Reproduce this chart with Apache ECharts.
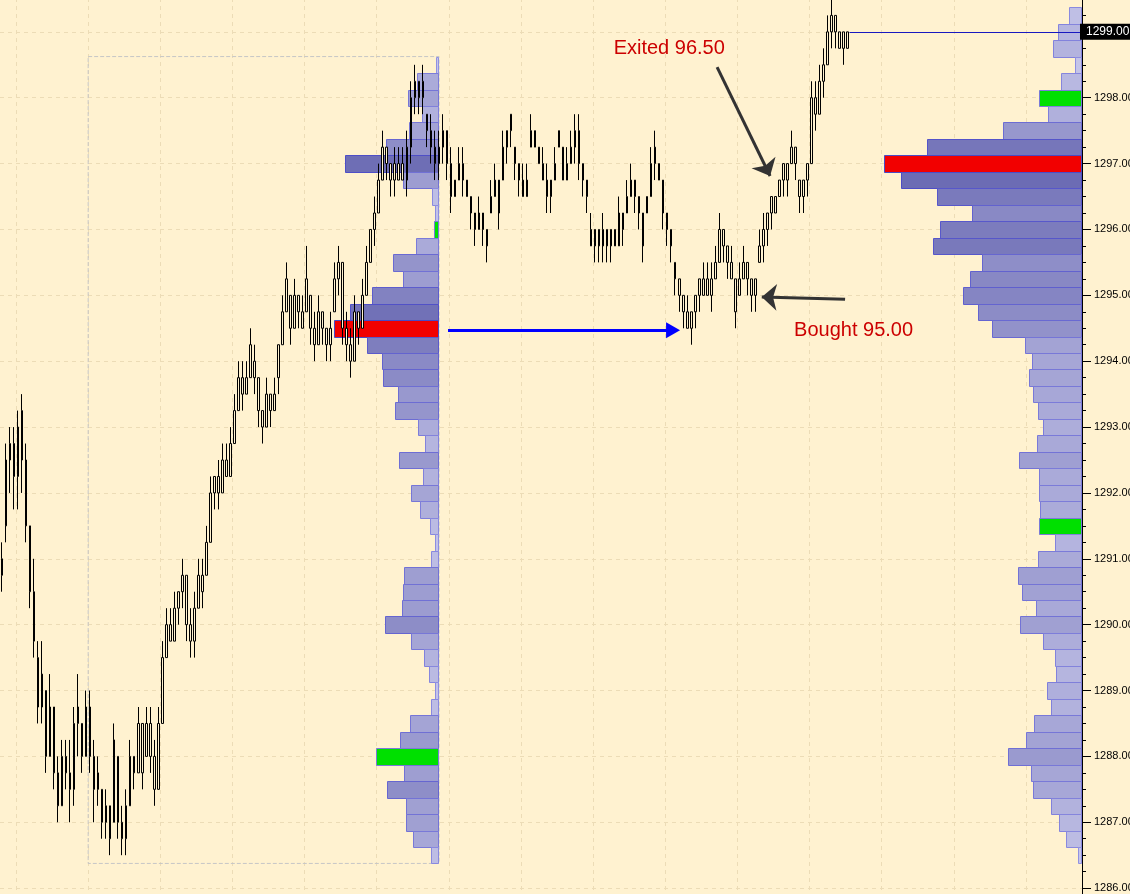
<!DOCTYPE html>
<html>
<head>
<meta charset="utf-8">
<script src="https://cdn.jsdelivr.net/npm/echarts@6/dist/echarts.min.js"></script>
<style>
html,body{margin:0;padding:0;background:#fff2d0;}
#chart{width:1130px;height:894px;}
</style>
</head>
<body>
<div id="chart"></div>
<script>
// ---------------- data ----------------
const TICK = 0.25;
const lastPrice = 1299.00;

const barOpen = [
1290.75,1291.5,1292.5,1292.75,1292.25,1293.25,1292.5,1291.5,1290.5,1289.5,
1288.75,1289.0,1288.0,1288.75,1287.75,1287.25,1288.0,1287.75,1287.5,1288.5,
1288.5,1288.0,1288.75,1288.0,1287.5,1287.5,1287.0,1287.25,1287.0,1288.0,
1287.0,1286.75,1287.25,1288.0,1287.75,1288.5,1288.0,1288.5,1288.0,1287.5,
1288.5,1289.5,1290.0,1289.75,1290.25,1290.5,1290.75,1290.0,1289.75,1290.25,
1290.75,1290.75,1291.25,1292.0,1292.25,1292.0,1292.5,1292.25,1292.75,1293.25,
1293.75,1293.5,1293.75,1294.0,1293.75,1293.25,1293.0,1293.5,1293.25,1293.75,
1294.25,1294.75,1295.0,1294.5,1295.0,1294.75,1294.75,1295.0,1294.5,1294.25,
1294.75,1294.5,1294.25,1294.75,1295.25,1295.5,1294.5,1294.25,1294.0,1294.75,
1294.5,1295.0,1295.5,1296.0,1296.25,1296.75,1297.25,1297.0,1296.75,1297.0,
1296.75,1296.75,1297.25,1298.0,1298.25,1298.0,1297.75,1297.5,1297.25,1297.0,
1297.25,1297.5,1297.0,1296.5,1296.75,1297.0,1296.75,1296.5,1296.25,1296.0,
1296.25,1296.0,1296.25,1296.5,1296.75,1296.75,1297.25,1297.5,1297.25,1297.0,
1296.5,1296.75,1297.25,1297.5,1297.25,1297.0,1296.75,1296.5,1296.75,1297.25,
1297.25,1296.75,1297.0,1297.25,1297.5,1297.0,1296.75,1296.0,1295.75,1296.0,
1295.75,1296.0,1295.75,1296.0,1295.75,1296.25,1296.25,1296.5,1296.75,1296.5,
1296.25,1296.25,1296.5,1297.0,1297.0,1296.75,1296.25,1296.0,1295.5,1295.25,
1295.0,1294.75,1294.5,1294.75,1295.0,1295.25,1295.0,1295.25,1295.25,1295.5,
1296.0,1295.75,1295.5,1295.25,1295.0,1295.25,1295.5,1295.25,1295.0,1295.5,
1295.75,1296.0,1296.25,1296.5,1296.5,1296.75,1297.0,1297.0,1297.25,1296.75,
1296.5,1296.75,1297.0,1298.0,1297.75,1298.25,1298.5,1299.0,1299.25,1299.0,
1298.75,1298.75
];
const barClose = [
1291.0,1292.5,1292.75,1292.25,1293.0,1292.5,1291.5,1290.5,1289.75,1288.75,
1289.25,1288.0,1288.75,1287.75,1287.25,1288.0,1287.75,1287.5,1288.5,1288.75,
1288.0,1288.75,1288.0,1287.5,1287.75,1287.0,1287.25,1286.75,1288.25,1287.0,
1286.75,1287.25,1288.0,1287.75,1288.5,1287.75,1288.5,1288.0,1287.5,1288.5,
1289.5,1290.0,1289.75,1290.25,1290.5,1290.75,1290.0,1289.75,1290.25,1290.75,
1290.5,1291.25,1292.0,1292.25,1292.0,1292.5,1292.25,1292.75,1293.25,1293.75,
1293.5,1293.75,1294.25,1293.75,1293.25,1293.0,1293.5,1293.25,1293.5,1294.25,
1294.75,1295.25,1294.5,1295.0,1294.75,1294.5,1295.25,1294.5,1294.25,1294.75,
1294.5,1294.25,1294.5,1295.25,1295.5,1294.5,1294.25,1294.0,1294.75,1294.5,
1295.0,1295.5,1296.0,1296.25,1296.75,1297.25,1297.0,1296.75,1297.0,1296.75,
1297.0,1297.25,1298.0,1298.25,1298.0,1298.25,1297.5,1297.25,1297.0,1297.25,
1297.5,1297.0,1296.5,1296.75,1297.0,1296.75,1296.5,1296.25,1296.0,1296.25,
1296.0,1295.75,1296.5,1296.75,1296.25,1297.25,1297.5,1297.75,1297.0,1296.75,
1296.75,1296.5,1297.5,1297.25,1297.0,1296.75,1296.5,1296.75,1297.0,1297.5,
1296.75,1297.0,1297.25,1297.5,1297.0,1296.75,1296.5,1295.75,1296.0,1295.75,
1296.0,1295.75,1296.0,1295.75,1296.25,1296.0,1296.5,1296.75,1296.5,1296.25,
1295.75,1296.5,1297.0,1297.25,1296.75,1296.25,1296.0,1295.75,1295.25,1295.0,
1294.75,1294.5,1294.75,1295.0,1295.25,1295.0,1295.25,1295.0,1295.5,1296.0,
1295.75,1295.5,1295.25,1294.75,1295.25,1295.5,1295.25,1295.0,1295.25,1295.75,
1296.0,1296.25,1296.5,1296.25,1296.75,1297.0,1296.75,1297.25,1297.0,1296.5,
1296.75,1297.0,1298.0,1297.75,1298.25,1298.5,1299.0,1299.25,1299.0,1298.75,
1299.0,1299.0
];
const barLow = [
1290.5,1291.25,1292.0,1291.75,1291.75,1292.0,1291.25,1290.25,1289.5,1288.5,
1288.5,1287.75,1288.0,1287.5,1287.0,1287.25,1287.5,1287.0,1287.25,1288.0,
1287.75,1288.0,1287.75,1287.0,1287.25,1286.75,1286.75,1286.5,1287.0,1286.75,
1286.5,1286.5,1287.25,1287.5,1287.75,1287.5,1288.0,1287.75,1287.25,1287.5,
1288.5,1289.5,1289.75,1289.75,1290.0,1290.25,1289.75,1289.5,1289.5,1290.25,
1290.25,1290.75,1291.25,1291.75,1291.75,1292.0,1292.25,1292.25,1292.75,1293.25,
1293.25,1293.5,1293.75,1293.5,1293.0,1292.75,1293.0,1293.0,1293.25,1293.5,
1294.25,1294.75,1294.25,1294.5,1294.5,1294.5,1294.75,1294.25,1294.0,1294.25,
1294.25,1294.0,1294.0,1294.75,1295.0,1294.25,1294.0,1293.75,1294.0,1294.25,
1294.5,1295.0,1295.5,1295.75,1296.25,1296.75,1296.75,1296.5,1296.5,1296.75,
1296.75,1296.5,1297.0,1297.75,1297.75,1297.75,1297.25,1297.0,1296.75,1296.75,
1297.0,1296.75,1296.25,1296.5,1296.75,1296.5,1296.5,1296.0,1295.75,1296.0,
1295.75,1295.5,1296.25,1296.5,1296.0,1296.75,1297.0,1297.25,1296.75,1296.5,
1296.5,1296.5,1297.25,1297.25,1297.0,1296.75,1296.25,1296.25,1296.75,1297.25,
1296.75,1296.75,1297.0,1297.0,1296.75,1296.5,1296.25,1295.75,1295.5,1295.5,
1295.5,1295.5,1295.5,1295.75,1295.75,1295.75,1296.25,1296.5,1296.25,1296.0,
1295.5,1296.25,1296.5,1296.75,1296.75,1296.0,1295.75,1295.5,1295.0,1294.75,
1294.5,1294.5,1294.25,1294.5,1294.75,1295.0,1295.0,1294.75,1295.25,1295.5,
1295.5,1295.25,1295.25,1294.5,1295.0,1295.25,1295.0,1294.75,1294.75,1295.5,
1295.5,1295.75,1296.0,1296.25,1296.5,1296.5,1296.5,1297.0,1296.75,1296.25,
1296.25,1296.5,1297.0,1297.5,1297.75,1298.0,1298.5,1298.75,1298.75,1298.75,
1298.5,1298.75
];
const barHigh = [
1291.25,1292.75,1293.0,1293.0,1293.25,1293.5,1292.75,1291.5,1291.0,1289.75,
1289.75,1289.0,1289.25,1288.75,1288.0,1288.25,1288.25,1288.25,1288.75,1289.25,
1288.5,1289.0,1289.0,1288.25,1288.0,1287.5,1287.5,1287.25,1288.5,1288.0,
1287.25,1287.5,1288.25,1288.0,1288.75,1288.5,1288.75,1288.75,1288.25,1288.75,
1289.75,1290.25,1290.25,1290.5,1290.5,1291.0,1290.75,1290.25,1290.5,1291.0,
1291.0,1291.5,1292.25,1292.25,1292.5,1292.75,1292.75,1293.0,1293.5,1294.0,
1294.0,1294.0,1294.5,1294.25,1293.75,1293.25,1293.75,1293.5,1293.75,1294.25,
1295.0,1295.5,1295.0,1295.25,1295.0,1295.0,1295.75,1295.0,1294.75,1295.0,
1294.75,1294.5,1294.75,1295.5,1295.75,1295.5,1294.75,1294.5,1295.0,1294.75,
1295.25,1295.75,1296.0,1296.5,1297.0,1297.5,1297.25,1297.0,1297.25,1297.25,
1297.25,1297.5,1298.25,1298.5,1298.25,1298.5,1297.75,1297.75,1297.5,1297.5,
1297.75,1297.5,1297.25,1296.75,1297.25,1297.25,1296.75,1296.5,1296.25,1296.5,
1296.25,1296.0,1296.75,1297.0,1296.75,1297.5,1297.5,1297.75,1297.25,1297.0,
1297.0,1297.0,1297.75,1297.5,1297.25,1297.25,1297.0,1296.75,1297.25,1297.5,
1297.25,1297.25,1297.5,1297.75,1297.75,1297.0,1296.75,1296.25,1296.0,1296.0,
1296.25,1296.0,1296.0,1296.0,1296.5,1296.25,1296.75,1297.0,1296.75,1296.5,
1296.25,1296.5,1297.25,1297.5,1297.0,1296.75,1296.25,1296.0,1295.5,1295.25,
1295.0,1295.0,1294.75,1295.0,1295.25,1295.5,1295.5,1295.5,1295.75,1296.25,
1296.0,1295.75,1295.75,1295.25,1295.5,1295.75,1295.5,1295.25,1295.25,1296.0,
1296.25,1296.25,1296.5,1296.5,1296.75,1297.0,1297.0,1297.5,1297.25,1296.75,
1296.75,1297.0,1298.25,1298.25,1298.5,1298.75,1299.25,1299.5,1299.25,1299.0,
1299.0,1299.0
];

// earlier session volume profile (left, inside dashed box)
const leftProfilePrices = [
1298.5,1298.25,1298.0,1297.75,1297.5,1297.25,1297.0,1296.75,1296.5,1296.25,
1296.0,1295.75,1295.5,1295.25,1295.0,1294.75,1294.5,1294.25,1294.0,1293.75,
1293.5,1293.25,1293.0,1292.75,1292.5,1292.25,1292.0,1291.75,1291.5,1291.25,
1291.0,1290.75,1290.5,1290.25,1290.0,1289.75,1289.5,1289.25,1289.0,1288.75,
1288.5,1288.25,1288.0,1287.75,1287.5,1287.25,1287.0,1286.75,1286.5
];
const leftProfileVolumes = [
3,22,31,17,30,53,94,36,7,4,
5,23,46,36,67,89,105,72,57,56,
41,44,21,14,40,16,28,19,9,4,
8,35,36,37,54,28,15,10,4,8,
29,39,63,35,52,33,33,26,8
];
const leftProfileGreen = [1296.0, 1288.0];

// composite volume profile (right edge)
const rightProfilePrices = [
1299.25,1299.0,1298.75,1298.5,1298.25,1298.0,1297.75,1297.5,1297.25,1297.0,
1296.75,1296.5,1296.25,1296.0,1295.75,1295.5,1295.25,1295.0,1294.75,1294.5,
1294.25,1294.0,1293.75,1293.5,1293.25,1293.0,1292.75,1292.5,1292.25,1292.0,
1291.75,1291.5,1291.25,1291.0,1290.75,1290.5,1290.25,1290.0,1289.75,1289.5,
1289.25,1289.0,1288.75,1288.5,1288.25,1288.0,1287.75,1287.5,1287.25,1287.0,
1286.75,1286.5
];
const rightProfileVolumes = [
13,24,29,7,21,43,34,79,155,198,
181,145,110,142,149,100,112,119,104,90,
57,50,53,49,44,39,45,63,43,43,
42,43,27,44,64,60,46,62,39,27,
26,35,31,48,56,74,51,49,31,23,
16,4
];
const rightProfileGreen = [1298.0, 1291.5];

const exitText = 'Exited 96.50';
const buyText = 'Bought 95.00';

// ---------------- chart ----------------
const BG = '#fff2d0';
const GRID_LINE = '#ecdcb6';
const SLOT_COUNT = 270; // time slots across the pane (incl. empty space under the right profile)
const slots = Array.from({length: SLOT_COUNT}, (_, i) => String(i));
const candleData = barOpen.map((o, i) => [o, barClose[i], barLow[i], barHigh[i]]);

function mix(c1, c2, t) {
  return 'rgb(' + c1.map((v, i) => Math.round(v + (c2[i] - v) * t)).join(',') + ')';
}

function profileSeries(prices, vols, greens, xAxisIndex, yAxisIndex) {
  const maxV = Math.max.apply(null, vols);
  return {
    type: 'custom',
    xAxisIndex: xAxisIndex,
    yAxisIndex: yAxisIndex,
    z: 1,
    silent: true,
    animation: false,
    data: prices.map((p, i) => [vols[i], p]),
    encode: {x: 0, y: 1},
    renderItem: function (params, api) {
      const v = api.value(0), p = api.value(1);
      const a = api.coord([0, p + TICK / 2]);
      const b = api.coord([v, p - TICK / 2]);
      const xl = Math.round(Math.min(a[0], b[0])) + 0.5;
      const xr = Math.round(Math.max(a[0], b[0])) - 0.5;
      const yt = Math.round(a[1]) + 0.5;
      const yb = Math.round(b[1]) + 0.5;
      const t = Math.pow(v / maxV, 0.7);
      let fill = mix([206, 206, 238], [102, 102, 176], t);
      let stroke = mix([150, 150, 228], [72, 72, 196], t);
      if (v === maxV) { fill = '#f20000'; stroke = '#4a4ac4'; }
      else if (greens.indexOf(p) >= 0) { fill = '#00e000'; stroke = '#7a7ad8'; }
      return {
        type: 'rect',
        shape: {x: xl, y: yt, width: Math.max(xr - xl, 1), height: yb - yt},
        style: {fill: fill, stroke: stroke, lineWidth: 1}
      };
    }
  };
}

const chart = echarts.init(document.getElementById('chart'), null, {renderer: 'canvas'});

const leftTop = Math.max.apply(null, leftProfilePrices) + TICK / 2;
const leftBottom = Math.min.apply(null, leftProfilePrices) - TICK / 2;

const option = {
  backgroundColor: BG,
  animation: false,
  grid: [
    {left: 0, right: 48, top: -34, bottom: -60, containLabel: false, outerBoundsMode: 'none'},
    {left: 0, right: 691, top: -34, bottom: -60, containLabel: false, outerBoundsMode: 'none'}
  ],
  xAxis: [
    {
      type: 'category', gridIndex: 0, data: slots, boundaryGap: true,
      axisLine: {show: false}, axisTick: {show: false}, axisLabel: {show: false},
      splitLine: {show: true, interval: function (i) { return i % 18 === 4; },
        lineStyle: {color: GRID_LINE, type: [4, 4], width: 1}}
    },
    {type: 'value', gridIndex: 0, inverse: true, min: 0, max: 1082, show: false},
    {type: 'value', gridIndex: 1, inverse: true, min: 0, max: 439, show: false},
    {type: 'value', gridIndex: 0, min: -0.5, max: SLOT_COUNT - 0.5, show: false}
  ],
  yAxis: [
    {
      type: 'value', gridIndex: 0, position: 'right', min: 1285, max: 1300, interval: 1,
      axisLine: {show: true, lineStyle: {color: '#000', width: 1}},
      axisTick: {show: true, length: 9, lineStyle: {color: '#000'}},
      minorTick: {show: true, splitNumber: 4, length: 4, lineStyle: {color: '#000'}},
      axisLabel: {color: '#000', fontFamily: 'Liberation Sans', fontSize: 11, margin: 12,
        formatter: function (v) { return v.toFixed(2); }},
      splitLine: {show: true, lineStyle: {color: GRID_LINE, type: [4, 4], width: 1}},
      minorSplitLine: {show: false}
    },
    {type: 'value', gridIndex: 1, min: 1285, max: 1300, show: false}
  ],
  series: [
    profileSeries(rightProfilePrices, rightProfileVolumes, rightProfileGreen, 1, 0),
    profileSeries(leftProfilePrices, leftProfileVolumes, leftProfileGreen, 2, 1),
    {
      type: 'candlestick', xAxisIndex: 0, yAxisIndex: 0, z: 3, silent: true,
      data: candleData, barWidth: 2,
      itemStyle: {color: BG, color0: BG, borderColor: '#000', borderColor0: '#000', borderWidth: 1}
    },
    {
      // last price line (under the profile)
      type: 'line', xAxisIndex: 3, yAxisIndex: 0, z: 0.9, data: [], silent: true,
      markLine: {
        silent: true, symbol: ['none', 'none'], animation: false,
        lineStyle: {color: '#1818c0', width: 1, type: 'solid'},
        label: {show: true, position: 'end', distance: 0, formatter: lastPrice.toFixed(2),
          backgroundColor: '#000', color: '#fff', fontFamily: 'Liberation Sans', fontSize: 12,
          padding: [2, 3, 2, 6]},
        data: [[{coord: [211.5, lastPrice]}, {coord: [269, lastPrice]}]]
      }
    },
    {
      type: 'line', xAxisIndex: 3, yAxisIndex: 0, z: 5, data: [], silent: true,
      markArea: {
        silent: true,
        itemStyle: {color: 'rgba(0,0,0,0)', borderColor: '#c6c6c6', borderWidth: 1, borderType: 'dashed'},
        data: [[{coord: [21.5, leftTop]}, {coord: [109.06, leftBottom]}]]
      },
      markLine: {
        silent: true, animation: false, label: {show: false},
        data: [
          [{coord: [111.3, 1294.47], symbol: 'none'},
           {coord: [167.46, 1294.47], symbol: 'triangle', symbolSize: [16, 14],
            lineStyle: {color: '#0000ff', width: 3, type: 'solid'}}],
          [{coord: [178.44, 1298.466], symbol: 'none'},
           {coord: [191.67, 1296.812], symbol: 'arrow', symbolSize: [20, 15],
            lineStyle: {color: '#333333', width: 3, type: 'solid'}}],
          [{coord: [210.38, 1294.94], symbol: 'none'},
           {coord: [189.6, 1294.975], symbol: 'arrow', symbolSize: [20, 15],
            lineStyle: {color: '#333333', width: 3, type: 'solid'}}]
        ]
      },
      markPoint: {
        silent: true, symbol: 'rect', symbolSize: 1, itemStyle: {color: 'rgba(0,0,0,0)'},
        label: {show: true, position: 'inside', color: '#cc0000', fontFamily: 'Liberation Sans', fontSize: 20},
        data: [
          {coord: [166.5, 1298.754], label: {formatter: exitText}},
          {coord: [212.5, 1294.473], label: {formatter: buyText}}
        ]
      }
    }
  ]
};
chart.setOption(option);
</script>
</body>
</html>
